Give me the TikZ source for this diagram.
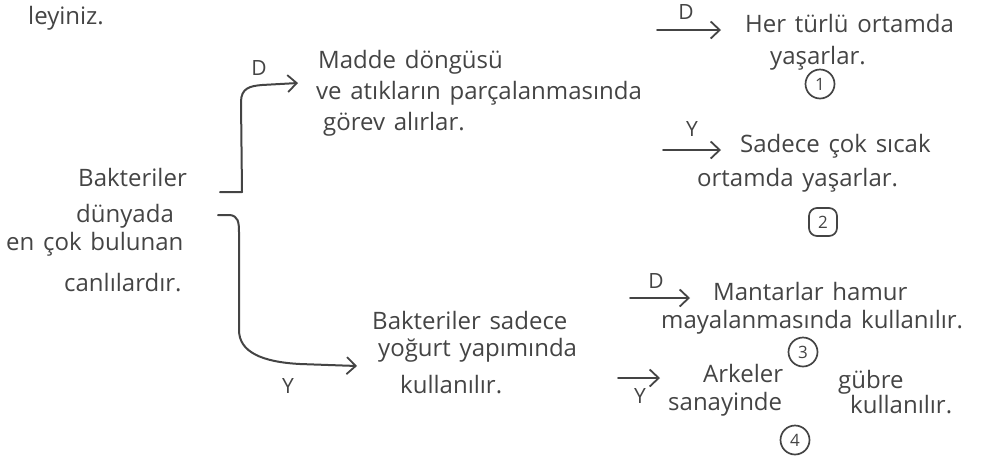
\documentclass[tikz,border=0pt]{standalone}
\usepackage{fontspec}
\setmainfont[WordSpace={1.4,0.4,0.2}]{Open Sans}
\usetikzlibrary{arrows.meta}
\definecolor{ink}{HTML}{444444}
\tikzset{
  txt/.style={anchor=west, inner sep=0pt, text=ink, font=\fontsize{24}{28}\selectfont},
  lbl/.style={inner sep=0pt, text=ink, font=\fontsize{21}{23}\selectfont},
  conn/.style={draw=ink, line width=2pt, line cap=round, line join=round,
    -{Straight Barb[length=9pt,width=17pt,line width=1.8pt]}},
  brk/.style={draw=ink, line width=2pt, line cap=round, line join=round},
  numc/.style={circle, draw=ink, line width=1.7pt, minimum size=29pt, inner sep=0pt,
    text=ink, font=\fontsize{17}{18}\selectfont},
  numb/.style={rounded corners=8pt, draw=ink, line width=1.7pt, minimum size=28pt, inner sep=0pt,
    text=ink, font=\fontsize{17}{18}\selectfont}
}
\begin{document}
\begin{tikzpicture}[x=1pt,y=-1pt]
\useasboundingbox (0,0) rectangle (1008,467);

% heading fragment
\node[txt] (head) at (28,18) {leyiniz.};

% central statement
\node[txt] (r1) at (78,177) {Bakteriler};
\node[txt] (r2) at (76,216) {dünyada};
\node[txt] (r3) at (6,244) {en çok bulunan};
\node[txt] (r4) at (64,283) {canlılardır.};

% "D" branch
\node[txt] (m1) at (318,62) {Madde döngüsü};
\node[txt] (m2) at (316,93) {ve atıkların parçalanmasında};
\node[txt] (m3) at (323,124) {görev alırlar.};

% "Y" branch
\node[txt] (y1) at (372,320) {Bakteriler sadece};
\node[txt] (y2) at (378,350) {yoğurt yapımında};
\node[txt] (y3) at (400,385) {kullanılır.};

% brackets leading to the two branches
\coordinate (bu) at (220,192);
\coordinate (bl) at (218,215);
\coordinate (tipD) at (298,83);
\coordinate (tipY) at (357,366);
\draw[conn] (bu) -- (242,192) -- (241,102) .. controls (241,88) and (250,86) .. (262,85) -- (tipD);
\draw[brk] (bl) -- (230,215) .. controls (238,216) and (239,222) .. (239,232)
  -- (239,330) .. controls (239,352) and (262,362) .. (300,364);
\draw[conn] (300,364) -- (tipY);
\node[lbl] (dA) at (259,68) {D};
\node[lbl] (yA) at (288,386) {Y};

% statement 1
\coordinate (s1) at (657,30);
\node[txt] (h1) at (745,23) {Her türlü ortamda};
\node[txt] (h2) at (770,58) {yaşarlar.};
\draw[conn] (s1) -- ([xshift=-24pt]h1.west |- s1);
\node[lbl] (d1) at (686,12) {D};
\node[numc] (n1) at (820,84) {1};

% statement 2
\coordinate (s2) at (663,150);
\node[txt] (c1) at (740,146) {Sadece çok sıcak};
\node[txt] (c2) at (697,180) {ortamda yaşarlar.};
\draw[conn] (s2) -- ([xshift=-19pt]c1.west |- s2);
\node[lbl] (d2) at (692,129) {Y};
\node[numb] (n2) at (823,222) {2};

% statement 3
\coordinate (s3) at (630,298);
\node[txt] (k1) at (713,291) {Mantarlar hamur};
\node[txt] (k2) at (661,322) {mayalanmasında kullanılır.};
\draw[conn] (s3) -- ([xshift=-23pt]k1.west |- s3);
\node[lbl] (d3) at (656,281) {D};
\node[numc] (n3) at (803,352) {3};

% statement 4
\coordinate (s4) at (618,378);
\node[txt] (a1) at (703,373) {Arkeler};
\node[txt] (a2) at (838,382) {gübre};
\node[txt] (a3) at (668,404) {sanayinde};
\node[txt] (a4) at (850,405) {kullanılır.};
\draw[conn] (s4) -- ([xshift=-43pt]a1.west |- s4);
\node[lbl] (d4) at (640,396) {Y};
\node[numc] (n4) at (795,440) {4};
\end{tikzpicture}
\end{document}
